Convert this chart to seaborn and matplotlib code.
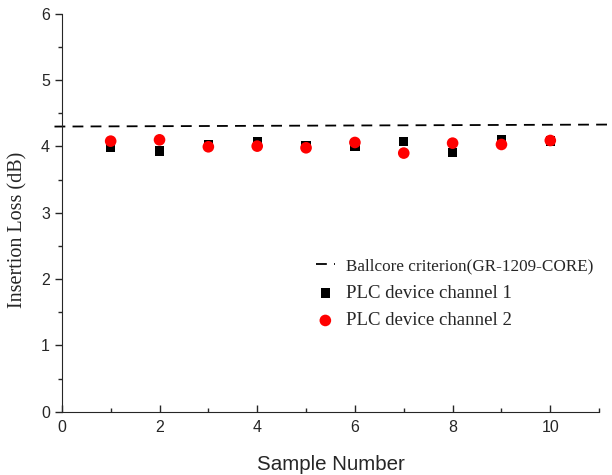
import numpy as np
import pandas as pd
import matplotlib
matplotlib.use("Agg")
import matplotlib.pyplot as plt
from matplotlib.ticker import MultipleLocator
import seaborn as sns

# values
samples = [1, 2, 3, 4, 5, 6, 7, 8, 9, 10]
channel_1 = [3.98, 3.93, 4.03, 4.07, 4.01, 4.00, 4.07, 3.91, 4.11, 4.08]
channel_2 = [4.08, 4.10, 3.995, 4.005, 3.98, 4.06, 3.90, 4.05, 4.03, 4.09]
criterion_x = [-0.15, 11.2]
criterion_y = [4.30, 4.33]

label_crit = "Ballcore criterion(GR-1209-CORE)"
label_ch1 = "PLC device channel 1"
label_ch2 = "PLC device channel 2"

df = pd.DataFrame({"sample": samples, "ch1": channel_1, "ch2": channel_2})
crit = pd.DataFrame({"x": criterion_x, "y": criterion_y})

sns.set_style("ticks")
plt.rcParams["font.family"] = ["Liberation Sans", "DejaVu Sans"]
serif = ["Liberation Serif", "DejaVu Serif"]

fig = plt.figure(figsize=(6.12, 4.75), dpi=100)
ax = fig.add_axes([0.101, 0.133, 0.878, 0.838])

sns.lineplot(data=crit, x="x", y="y", ax=ax, color="black", lw=1.3,
             dashes=False, label=label_crit, clip_on=False)
ax.lines[0].set_dashes((6, 4))
sns.scatterplot(data=df, x="sample", y="ch1", ax=ax, marker="s", s=45,
                color="black", edgecolor="none", label=label_ch1)
sns.scatterplot(data=df, x="sample", y="ch2", ax=ax, marker="o", s=70,
                color="red", edgecolor="none", label=label_ch2)

ax.set_xlim(0, 11)
ax.set_ylim(0, 6)
ax.xaxis.set_major_locator(MultipleLocator(2))
ax.xaxis.set_minor_locator(MultipleLocator(1))
ax.yaxis.set_major_locator(MultipleLocator(1))
ax.yaxis.set_minor_locator(MultipleLocator(0.5))
ax.tick_params(axis="x", which="both", direction="in", labelsize=11.5, pad=6)
ax.tick_params(axis="y", which="both", direction="out", labelsize=11.5)
ax.tick_params(which="major", length=5, width=1)
ax.tick_params(which="minor", length=3, width=1)
sns.despine(ax=ax)

ax.set_xlabel("Sample Number", fontsize=14.8, labelpad=14)
ax.set_ylabel("Insertion Loss (dB)", fontsize=14.5, family=serif)
ax.yaxis.set_label_coords(-0.063, 0.457)

leg = ax.legend(loc="upper left", bbox_to_anchor=(0.473, 0.388), frameon=False,
                borderaxespad=0, borderpad=0, handlelength=1.0, handletextpad=0.6,
                labelspacing=0.55, prop={"family": serif, "size": 13.5})
leg.get_texts()[0].set_fontsize(12.3)

fig.savefig("out.png", dpi=100)
